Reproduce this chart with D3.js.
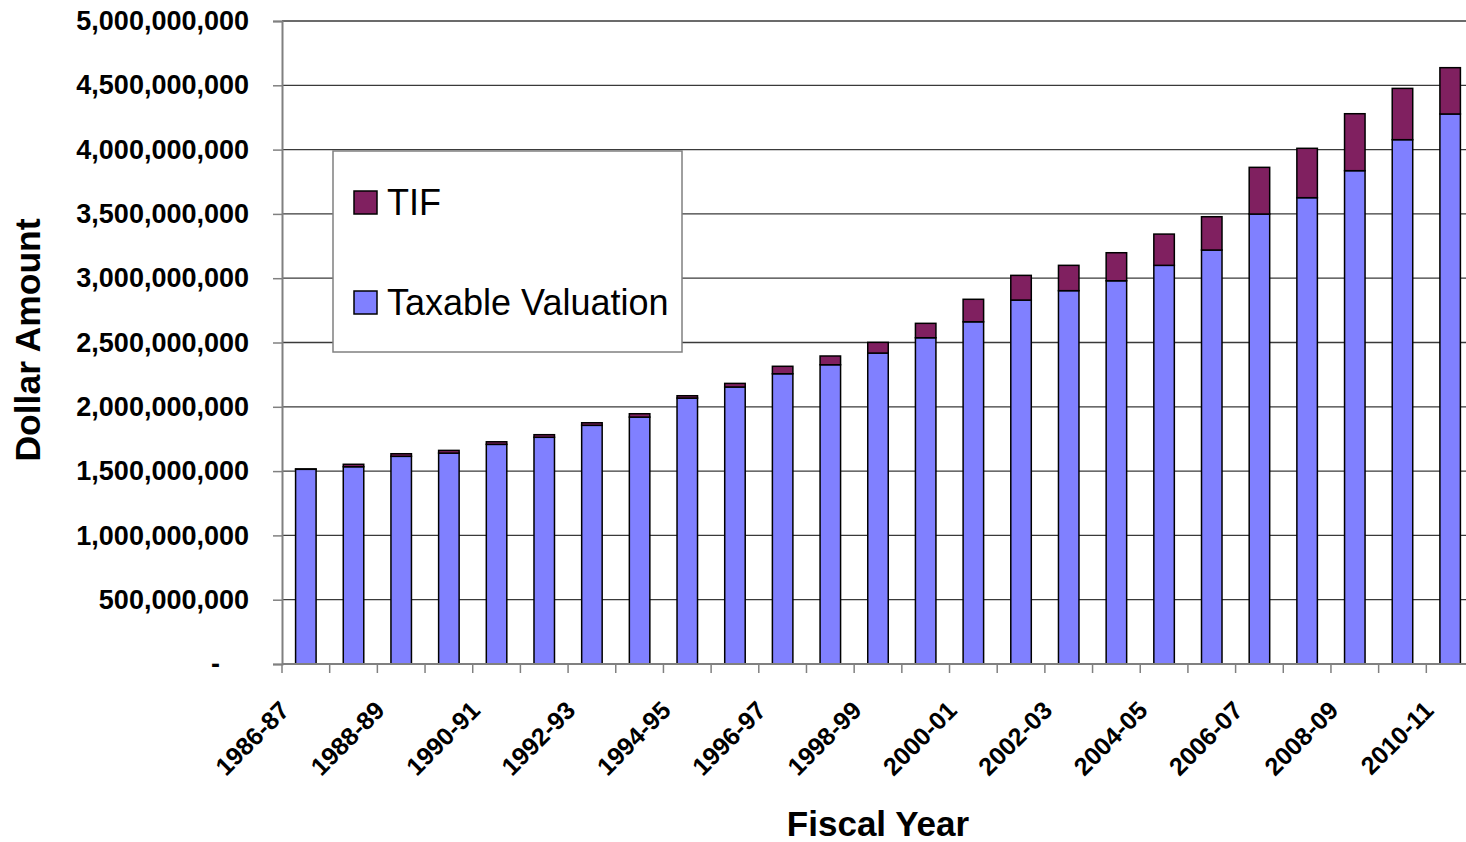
<!DOCTYPE html>
<html>
<head>
<meta charset="utf-8">
<script src="https://cdn.jsdelivr.net/npm/d3@7"></script>
<style>
  body { margin: 0; background: #fff; }
  text { font-family: "Liberation Sans", Arial, sans-serif; }
</style>
</head>
<body>
<svg id="chart"></svg>
<script>
// Fiscal years
var categories = ["1986-87", "1987-88", "1988-89", "1989-90", "1990-91", "1991-92", "1992-93",
  "1993-94", "1994-95", "1995-96", "1996-97", "1997-98", "1998-99", "1999-00", "2000-01",
  "2001-02", "2002-03", "2003-04", "2004-05", "2005-06", "2006-07", "2007-08", "2008-09",
  "2009-10", "2010-11"];

// Values in millions of dollars
var taxable = [1514, 1534, 1615, 1640, 1708, 1763, 1856, 1920, 2068, 2154, 2257, 2327, 2418,
  2537, 2661, 2830, 2903, 2980, 3100, 3219, 3499, 3626, 3836, 4077, 4277];
var tif = [3, 19, 20, 21, 20, 20, 20, 26, 18, 28, 58, 68, 83, 112, 175, 192, 197, 218, 243,
  259, 363, 384, 443, 399, 360];

var yTicks = [0, 500, 1000, 1500, 2000, 2500, 3000, 3500, 4000, 4500, 5000];

var seriesNames = ["Taxable Valuation", "TIF"];
var colour = d3.scaleOrdinal().domain(seriesNames).range(["#8080ff", "#802060"]);

var width = 1466, height = 842;
var plotLeft = 282, plotRight = 1474, plotTop = 21, plotBottom = 664;

var svg = d3.select("#chart")
  .attr("width", width)
  .attr("height", height);

var rows = categories.map(function (c, i) {
  return { year: c, "Taxable Valuation": taxable[i], "TIF": tif[i] };
});

var x = d3.scaleBand()
  .domain(categories)
  .range([plotLeft, plotRight])
  .paddingInner(0.57)
  .paddingOuter(0.285);

var y = d3.scaleLinear()
  .domain([0, 5000])
  .range([plotBottom, plotTop]);

// Gridlines
svg.append("g")
  .selectAll("line")
  .data(yTicks.filter(function (d) { return d > 0; }))
  .enter().append("line")
  .attr("x1", plotLeft)
  .attr("x2", width)
  .attr("y1", function (d) { return y(d); })
  .attr("y2", function (d) { return y(d); })
  .attr("stroke", "#3a3a3a")
  .attr("stroke-width", 1.3);

// Stacked bars
var stack = d3.stack().keys(seriesNames);
var layers = svg.append("g")
  .selectAll("g")
  .data(stack(rows))
  .enter().append("g")
  .attr("fill", function (d) { return colour(d.key); });

layers.selectAll("rect")
  .data(function (d) { return d; })
  .enter().append("rect")
  .attr("x", function (d) { return x(d.data.year); })
  .attr("width", x.bandwidth())
  .attr("y", function (d) { return y(d[1]); })
  .attr("height", function (d) { return y(d[0]) - y(d[1]); })
  .attr("stroke", "#000")
  .attr("stroke-width", 1.5);

// Y axis
var yAxis = svg.append("g")
  .attr("transform", "translate(" + plotLeft + ",0)")
  .call(d3.axisLeft(y)
    .tickValues(yTicks)
    .tickSize(9)
    .tickPadding(24)
    .tickFormat(function (d) { return d === 0 ? "-" : d3.format(",")(d * 1e6); }));

yAxis.select(".domain").attr("stroke", "#808080").attr("stroke-width", 2);
yAxis.selectAll(".tick line").attr("stroke", "#808080").attr("stroke-width", 1.5);
yAxis.selectAll(".tick text")
  .attr("font-size", "27px")
  .attr("font-weight", "bold")
  .attr("fill", "#000")
  .attr("font-family", "Liberation Sans, Arial, sans-serif");
yAxis.selectAll(".tick text")
  .filter(function (d) { return d === 0; })
  .attr("x", -62);

// X axis line and ticks between categories
var xg = svg.append("g");
xg.append("line")
  .attr("x1", plotLeft).attr("x2", width)
  .attr("y1", plotBottom).attr("y2", plotBottom)
  .attr("stroke", "#808080").attr("stroke-width", 2);

xg.selectAll(".xtick")
  .data(d3.range(categories.length + 1))
  .enter().append("line")
  .attr("class", "xtick")
  .attr("x1", function (i) { return plotLeft + i * x.step(); })
  .attr("x2", function (i) { return plotLeft + i * x.step(); })
  .attr("y1", plotBottom)
  .attr("y2", plotBottom + 9)
  .attr("stroke", "#808080")
  .attr("stroke-width", 1.5);

// Rotated labels on every other year
xg.selectAll(".xlabel")
  .data(categories.filter(function (d, i) { return i % 2 === 0; }))
  .enter().append("text")
  .attr("class", "xlabel")
  .attr("transform", function (d) {
    return "translate(" + (x(d) + x.bandwidth() / 2 - 15) + "," + (plotBottom + 48) + ") rotate(-45)";
  })
  .style("text-anchor", "end")
  .attr("font-size", "25px")
  .attr("font-weight", "bold")
  .text(function (d) { return d; });

// Axis titles
svg.append("text")
  .attr("x", 878)
  .attr("y", 836)
  .style("text-anchor", "middle")
  .attr("font-size", "35px")
  .attr("font-weight", "bold")
  .text("Fiscal Year");

svg.append("text")
  .attr("transform", "translate(40,340) rotate(-90)")
  .style("text-anchor", "middle")
  .attr("font-size", "35.5px")
  .attr("font-weight", "bold")
  .text("Dollar Amount");

// Legend
var legend = svg.append("g").attr("transform", "translate(333,151)");
legend.append("rect")
  .attr("width", 349)
  .attr("height", 201)
  .attr("fill", "#fff")
  .attr("stroke", "#808080")
  .attr("stroke-width", 1.5);

var items = legend.selectAll(".item")
  .data(["TIF", "Taxable Valuation"])
  .enter().append("g")
  .attr("class", "item")
  .attr("transform", function (d, i) { return "translate(21," + (40 + i * 100) + ")"; });

items.append("rect")
  .attr("width", 23)
  .attr("height", 23)
  .attr("fill", function (d) { return colour(d); })
  .attr("stroke", "#000")
  .attr("stroke-width", 1.5);

items.append("text")
  .attr("x", 33)
  .attr("y", 24)
  .attr("font-size", "36px")
  .attr("fill", "#000")
  .text(function (d) { return d; });
</script>
</body>
</html>
